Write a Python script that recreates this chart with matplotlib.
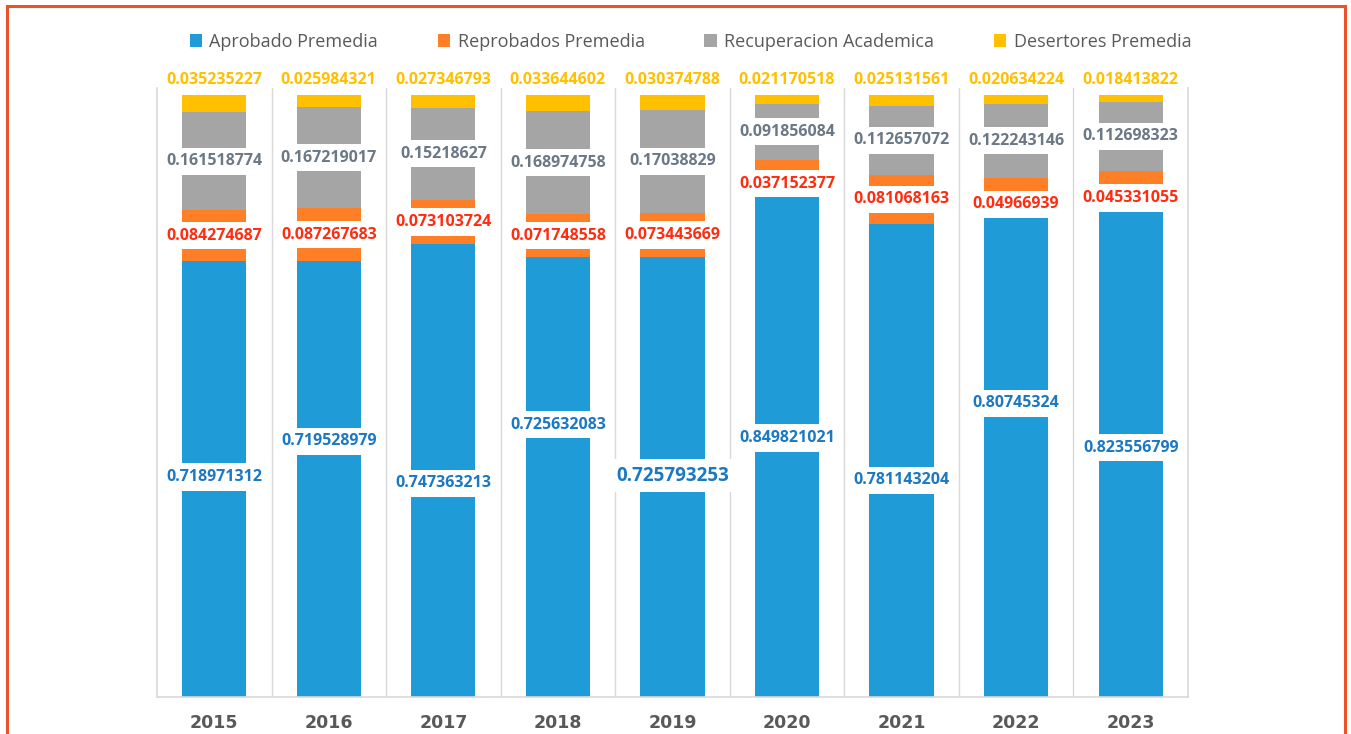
import numpy as np
import matplotlib.pyplot as plt
from matplotlib.patches import Rectangle

years = ['2015', '2016', '2017', '2018', '2019', '2020', '2021', '2022', '2023']
aprobado = [0.718971312, 0.719528979, 0.747363213, 0.725632083, 0.725793253,
            0.849821021, 0.781143204, 0.80745324, 0.823556799]
reprobados = [0.084274687, 0.087267683, 0.073103724, 0.071748558, 0.073443669,
              0.037152377, 0.081068163, 0.04966939, 0.045331055]
recuperacion = [0.161518774, 0.167219017, 0.15218627, 0.168974758, 0.17038829,
                0.091856084, 0.112657072, 0.122243146, 0.112698323]
desertores = [0.035235227, 0.025984321, 0.027346793, 0.033644602, 0.030374788,
              0.021170518, 0.025131561, 0.020634224, 0.018413822]
series_names = ['Aprobado Premedia', 'Reprobados Premedia',
                'Recuperacion Academica', 'Desertores Premedia']

# where each label sits inside its segment (fraction of the segment height)
aprobado_lbl_pos = [0.505, 0.587, 0.472, 0.619, 0.503, 0.503, 0.458, 0.60, 0.50]
reprobados_lbl_pos = [0.5, 0.5, 0.5, 0.5, 0.5, -0.08, 0.5, 0.12, 0.0]

bar_colors = ['#1F9BD7', '#FF7F27', '#A5A5A5', '#FFC000']
text_colors = ['#1B78C2', '#FF2D10', '#6B7886', '#FFC000']

plt.rcParams['font.family'] = ['Open Sans', 'DejaVu Sans']

fig = plt.figure(figsize=(13.51, 7.34), dpi=100)
ax = fig.add_axes([0.1162, 0.0504, 0.7631, 0.8296])

x = np.arange(len(years))
w = 0.56
series = [np.array(aprobado), np.array(reprobados),
          np.array(recuperacion), np.array(desertores)]
bottom = np.zeros(len(years))
bottoms = []
for vals, col, name in zip(series, bar_colors, series_names):
    ax.bar(x, vals, w, bottom=bottom, color=col, label=name, zorder=2)
    bottoms.append(bottom.copy())
    bottom = bottom + vals

fs = 11.5
box = dict(boxstyle='square,pad=0.35', fc='white', ec='none')
for i in range(len(years)):
    big = 13.5 if years[i] == '2019' else fs
    y0 = bottoms[0][i] + aprobado[i] * aprobado_lbl_pos[i]
    ax.text(x[i], y0, f'{aprobado[i]:.9g}', ha='center', va='center',
            color=text_colors[0], fontsize=big, fontweight='bold', bbox=box, zorder=4)
    y1 = bottoms[1][i] + reprobados[i] * reprobados_lbl_pos[i]
    ax.text(x[i], y1, f'{reprobados[i]:.9g}', ha='center', va='center',
            color=text_colors[1], fontsize=fs, fontweight='bold', bbox=box, zorder=4)
    y2 = bottoms[2][i] + recuperacion[i] / 2
    ax.text(x[i], y2, f'{recuperacion[i]:.9g}', ha='center', va='center',
            color=text_colors[2], fontsize=fs, fontweight='bold', bbox=box, zorder=4)
    ax.annotate(f'{desertores[i]:.9g}', (x[i], bottom[i]), xytext=(0, 8),
                textcoords='offset points', ha='center', va='center',
                color=text_colors[3], fontsize=fs, fontweight='bold',
                bbox=dict(boxstyle='square,pad=0.45', fc='white', ec='none'),
                zorder=4, annotation_clip=False)

ax.set_xlim(-0.5, len(years) - 0.5)
ax.set_ylim(0, 1.005)
ax.set_yticks([])
ax.set_xticks(x)
ax.set_xticklabels(years, fontsize=12.5, fontweight='bold', color='#595959',
                   family='DejaVu Sans')
ax.tick_params(axis='x', length=0, pad=12)
for b in np.arange(0.5, len(years) - 0.5):
    ax.axvline(b, color='#D9D9D9', lw=1, zorder=1)
for s in ['left', 'right', 'bottom']:
    ax.spines[s].set_color('#D9D9D9')
    ax.spines[s].set_linewidth(1.2)
ax.spines['top'].set_visible(False)

fig.legend(loc='center', bbox_to_anchor=(0.511, 0.943), ncol=4, frameon=False,
           handlelength=0.7, handleheight=0.7, handletextpad=0.4,
           columnspacing=3.3, fontsize=13, labelcolor='#595959')

fig.patches.append(Rectangle((7 / 1351, -0.05), 1338 / 1351, 1.05 - 6 / 734,
                             transform=fig.transFigure, fill=False,
                             ec='#E9542B', lw=2.2))

fig.savefig('out.png', dpi=100, facecolor='white')
